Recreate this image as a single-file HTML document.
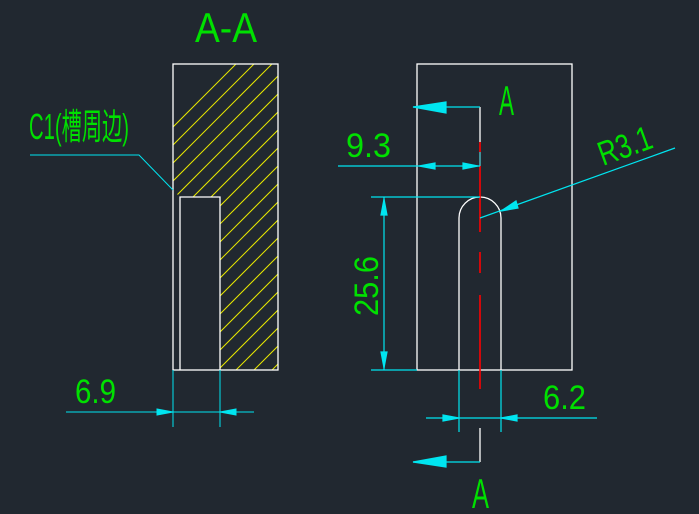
<!DOCTYPE html>
<html><head><meta charset="utf-8"><style>
html,body{margin:0;padding:0;background:#212830;}
svg{display:block}
text{font-family:"Liberation Sans","Noto Sans CJK SC",sans-serif;fill:#00e000;}
</style></head><body>
<svg width="699" height="514" viewBox="0 0 699 514" xmlns="http://www.w3.org/2000/svg">
<defs>
<clipPath id="c"><path d="M173,64 H278 V370 H220 V197 H180 L173,190 Z"/></clipPath>
</defs>
<rect width="699" height="514" fill="#212830"/>
<g clip-path="url(#c)" stroke="#e8e800" stroke-width="1">
<line x1="-100" y1="400" x2="240" y2="60"/><line x1="-82" y1="400" x2="258" y2="60"/><line x1="-64" y1="400" x2="276" y2="60"/><line x1="-46" y1="400" x2="294" y2="60"/><line x1="-28" y1="400" x2="312" y2="60"/><line x1="-10" y1="400" x2="330" y2="60"/><line x1="8" y1="400" x2="348" y2="60"/><line x1="26" y1="400" x2="366" y2="60"/><line x1="44" y1="400" x2="384" y2="60"/><line x1="62" y1="400" x2="402" y2="60"/><line x1="80" y1="400" x2="420" y2="60"/><line x1="98" y1="400" x2="438" y2="60"/><line x1="116" y1="400" x2="456" y2="60"/><line x1="134" y1="400" x2="474" y2="60"/><line x1="152" y1="400" x2="492" y2="60"/><line x1="170" y1="400" x2="510" y2="60"/><line x1="188" y1="400" x2="528" y2="60"/><line x1="206" y1="400" x2="546" y2="60"/><line x1="224" y1="400" x2="564" y2="60"/><line x1="242" y1="400" x2="582" y2="60"/><line x1="260" y1="400" x2="600" y2="60"/>
</g>
<g fill="none" stroke="#fff" stroke-width="1.3">
<rect x="173" y="64" width="105" height="306"/>
<path d="M180,370 V197 H220 V370"/>
</g>
<polyline points="30,155 139,155 173,190" fill="none" stroke="#00e5f0" stroke-width="1"/>
<g stroke="#00e5f0" stroke-width="1" fill="#00e5f0">
<line x1="173" y1="370" x2="173" y2="427"/><line x1="220" y1="370" x2="220" y2="427"/>
<line x1="66" y1="412" x2="254" y2="412"/>
<polygon points="173,412 157,409 157,415"/><polygon points="220,412 236,409 236,415"/>
</g>
<g fill="none" stroke="#fff" stroke-width="1.3">
<rect x="417" y="64" width="155" height="306"/>
<path d="M459,370 V218 A21,21 0 0 1 501,218 V370"/>
<line x1="480" y1="107" x2="480" y2="142"/>
<line x1="480" y1="428" x2="480" y2="462"/>
</g>
<g stroke="#ff0000" stroke-width="1.6">
<line x1="480" y1="142" x2="480" y2="232"/><line x1="480" y1="252" x2="480" y2="273"/><line x1="480" y1="295" x2="480" y2="389"/>
</g>
<g stroke="#00e5f0" stroke-width="1.2" fill="#00e5f0">
<line x1="413" y1="107" x2="480" y2="107"/>
<polygon points="413,107 446,102 446,113"/>
<line x1="413" y1="462" x2="480" y2="462"/>
<polygon points="413,462 446,456 446,467"/>
<line x1="338" y1="166" x2="480" y2="166"/>
<line x1="480" y1="152" x2="480" y2="166"/>
<polygon points="419,166 435,163 435,169"/><polygon points="478,166 463,163 463,169"/>
<line x1="371" y1="197" x2="480" y2="197"/>
<line x1="371" y1="370" x2="417" y2="370"/>
<line x1="384" y1="197" x2="384" y2="370"/>
<polygon points="384,199 381,215 387,215"/><polygon points="384,368 381,352 387,352"/>
<line x1="480" y1="218" x2="675" y2="148"/>
<polygon points="501,211 516,201 518,208"/>
<line x1="459" y1="370" x2="459" y2="432"/><line x1="501" y1="370" x2="501" y2="432"/>
<line x1="426" y1="418" x2="597" y2="418"/>
<polygon points="459,418 443,415 443,421"/><polygon points="501,418 517,415 517,421"/>
</g>
<text x="195" y="42" font-size="42" textLength="62" lengthAdjust="spacingAndGlyphs">A-A</text>
<text x="29" y="139" font-size="36" textLength="100" lengthAdjust="spacingAndGlyphs">C1(槽周边)</text>
<text x="499" y="115" font-size="42" textLength="15" lengthAdjust="spacingAndGlyphs">A</text>
<text x="472" y="508" font-size="42" textLength="17" lengthAdjust="spacingAndGlyphs">A</text>
<text x="346" y="157" font-size="34" textLength="45" lengthAdjust="spacingAndGlyphs">9.3</text>
<text x="75" y="403" font-size="34" textLength="41" lengthAdjust="spacingAndGlyphs">6.9</text>
<text x="543" y="409" font-size="34" textLength="43" lengthAdjust="spacingAndGlyphs">6.2</text>
<text transform="translate(378,316) rotate(-90)" font-size="34" textLength="60" lengthAdjust="spacingAndGlyphs">25.6</text>
<text transform="translate(603,166) rotate(-20)" font-size="34" textLength="55" lengthAdjust="spacingAndGlyphs">R3.1</text>
</svg>
</body></html>
